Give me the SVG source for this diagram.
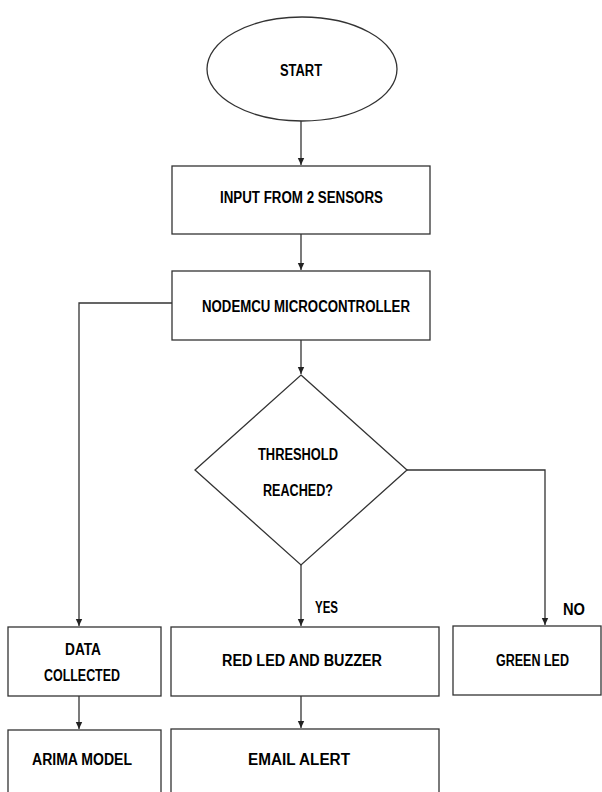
<svg xmlns="http://www.w3.org/2000/svg" width="602" height="792" viewBox="0 0 602 792">
<style>
.s{fill:#fff;stroke:#333;stroke-width:1.3}
.c{fill:none;stroke:#333;stroke-width:1.3}
.t{font-family:"Liberation Sans",Arial,sans-serif;font-weight:bold;font-size:16px;fill:#000;text-anchor:middle}
</style>
<defs>
<marker id="ah" markerWidth="8" markerHeight="8" refX="7" refY="4" orient="auto" markerUnits="userSpaceOnUse">
<path d="M0,0.8 L7,4 L0,7.2 Z" fill="#222"/>
</marker>
</defs>
<rect width="602" height="792" fill="#fff"/>
<g id="connectors">
<line class="c" x1="301" y1="121" x2="301" y2="165" marker-end="url(#ah)"/>
<line class="c" x1="301" y1="234" x2="301" y2="270" marker-end="url(#ah)"/>
<polyline class="c" points="172,303 79,303 79,626" marker-end="url(#ah)"/>
<line class="c" x1="301" y1="340" x2="301" y2="374" marker-end="url(#ah)"/>
<line class="c" x1="301" y1="565" x2="301" y2="626" marker-end="url(#ah)"/>
<polyline class="c" points="407,470 545,470 545,625" marker-end="url(#ah)"/>
<line class="c" x1="79" y1="696" x2="79" y2="729" marker-end="url(#ah)"/>
<line class="c" x1="301" y1="696" x2="301" y2="728" marker-end="url(#ah)"/>
<text class="t" x="326.5" y="613" textLength="23" lengthAdjust="spacingAndGlyphs">YES</text>
<text class="t" x="574" y="615" textLength="22" lengthAdjust="spacingAndGlyphs">NO</text>
</g>
<g id="start">
<ellipse class="s" cx="302" cy="69" rx="95" ry="52"/>
<text class="t" x="301" y="76" textLength="42" lengthAdjust="spacingAndGlyphs">START</text>
</g>
<g id="input">
<rect class="s" x="172" y="166" width="258" height="68"/>
<text class="t" x="301.5" y="203" textLength="163" lengthAdjust="spacingAndGlyphs">INPUT FROM 2 SENSORS</text>
</g>
<g id="nodemcu">
<rect class="s" x="172" y="271" width="258" height="69"/>
<text class="t" x="306" y="311.5" textLength="208" lengthAdjust="spacingAndGlyphs">NODEMCU MICROCONTROLLER</text>
</g>
<g id="threshold">
<polygon class="s" points="301,375 407,470 301,565 195,470"/>
<text class="t" x="298" y="460" textLength="80" lengthAdjust="spacingAndGlyphs">THRESHOLD</text>
<text class="t" x="298" y="496" textLength="70" lengthAdjust="spacingAndGlyphs">REACHED?</text>
</g>
<g id="data">
<rect class="s" x="8" y="627" width="153" height="69"/>
<text class="t" x="83" y="655" textLength="36" lengthAdjust="spacingAndGlyphs">DATA</text>
<text class="t" x="82" y="680.5" textLength="76" lengthAdjust="spacingAndGlyphs">COLLECTED</text>
</g>
<g id="redled">
<rect class="s" x="171" y="627" width="268" height="69"/>
<text class="t" x="302" y="666" textLength="160" lengthAdjust="spacingAndGlyphs">RED LED AND BUZZER</text>
</g>
<g id="greenled">
<rect class="s" x="453" y="626" width="148" height="69"/>
<text class="t" x="532.5" y="666" textLength="73" lengthAdjust="spacingAndGlyphs">GREEN LED</text>
</g>
<g id="arima">
<rect class="s" x="8" y="730" width="153" height="70"/>
<text class="t" x="82" y="765" textLength="100" lengthAdjust="spacingAndGlyphs">ARIMA MODEL</text>
</g>
<g id="email">
<rect class="s" x="171" y="729" width="268" height="70"/>
<text class="t" x="299" y="765" textLength="102" lengthAdjust="spacingAndGlyphs">EMAIL ALERT</text>
</g>
</svg>
